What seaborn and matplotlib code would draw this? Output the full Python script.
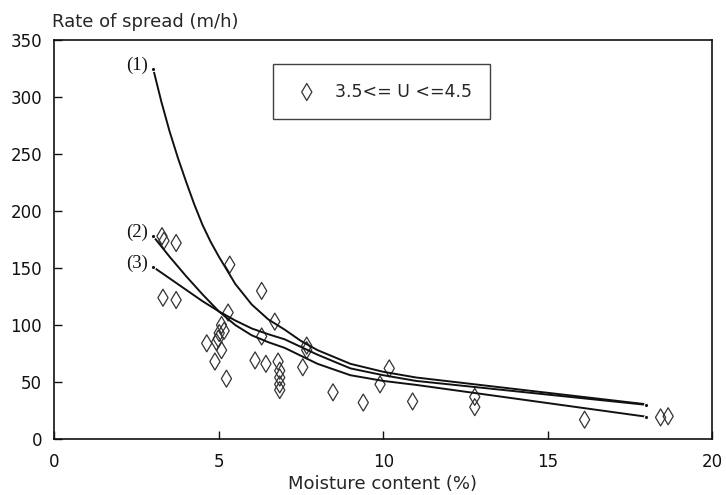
import numpy as np
import pandas as pd
import matplotlib
matplotlib.use("Agg")
import matplotlib.pyplot as plt
import seaborn as sns

# observed points, 3.5 <= U <= 4.5
moisture = [3.27, 3.33, 3.70, 3.30, 3.70, 5.33, 6.30, 6.70, 6.30, 7.67, 7.67, 7.55,
            6.10, 6.43, 6.80, 6.85, 6.85, 6.85, 6.85, 5.28, 5.08, 5.16, 5.01, 4.98,
            4.93, 4.63, 5.08, 4.88, 5.23, 8.47, 9.39, 9.90, 10.18, 10.89, 12.78,
            12.78, 16.12, 18.43, 18.66]
spread = [178, 174, 172, 124, 122, 153, 130, 103, 90, 82, 78, 63,
          69, 66, 68, 60, 54, 48, 43, 111, 100, 95, 93, 88,
          85, 84, 78, 68, 53, 41, 32, 48, 62, 33, 37,
          28, 17, 19, 20]

# model curves (1), (2), (3)
c1_x = [3, 3.25, 3.5, 3.75, 4, 4.25, 4.5, 4.75, 5, 5.5, 6, 6.5, 7, 7.5, 8, 9, 10, 11, 18]
c1_y = [325, 296, 270, 247, 226, 206, 188, 173, 160, 136, 118, 105, 96, 86, 78, 66, 59, 54, 30.5]
c2_x = [3, 3.5, 4, 4.5, 5, 5.5, 6, 6.5, 7, 8, 9, 10, 11, 18]
c2_y = [178, 160, 143, 127, 112, 100, 91, 85, 80, 66, 56, 51, 47.5, 19.6]
c3_x = [3, 3.5, 4, 4.5, 5, 5.5, 6, 6.5, 7, 8, 9, 10, 11, 18]
c3_y = [151, 141, 131, 121, 112, 104, 97, 92, 87.5, 74, 62, 56, 51, 30]
curve_labels = ["(1)", "(2)", "(3)"]
legend_label = "3.5<= U <=4.5"

sns.set_style("ticks")
plt.rcParams["font.family"] = ["DejaVu Sans"]

fig = plt.figure(figsize=(7.26, 4.95), dpi=100)
ax = fig.add_axes([0.075, 0.113, 0.906, 0.806])

pts = pd.DataFrame({"moisture": moisture, "spread": spread})
sns.scatterplot(data=pts, x="moisture", y="spread", ax=ax, marker="d", s=75,
                facecolor="none", edgecolor="#333333", linewidth=0.9,
                label=legend_label, zorder=3)

curves = [(c1_x, c1_y), (c2_x, c2_y), (c3_x, c3_y)]
for (cx, cy), lab in zip(curves, curve_labels):
    sns.lineplot(x=cx, y=cy, ax=ax, sort=False, estimator=None, color="#111111",
                 linewidth=1.4, marker="o", markersize=3, markevery=[0, len(cx) - 1],
                 legend=False, zorder=4)
    ax.text(cx[0] - 0.15, cy[0] + 3, lab, ha="right", va="center", fontsize=13.5,
            family="Liberation Serif", color="#111111")

ax.set_xlim(0, 20)
ax.set_ylim(0, 350)
ax.set_xticks([0, 5, 10, 15, 20])
ax.set_yticks(range(0, 351, 50))
ax.tick_params(direction="in", length=6, width=1, labelsize=12, colors="#111111")
ax.tick_params(axis="x", pad=10)
ax.tick_params(axis="y", pad=9)
for s in ax.spines.values():
    s.set_linewidth(1.2)
    s.set_color("#111111")

ax.set_xlabel("")
ax.set_ylabel("")
fig.text(0.527, 1 - 484 / 495, "Moisture content (%)", fontsize=13, ha="center",
         va="center")
fig.text(0.072, 0.955, "Rate of spread (m/h)", fontsize=13, ha="left", va="center")

leg = ax.legend(loc="center", bbox_to_anchor=(0.497, 0.871), fontsize=12.5,
                frameon=True, fancybox=False, borderpad=1.05, handletextpad=0.7,
                borderaxespad=0, handlelength=1.8)
leg.get_frame().set_edgecolor("#111111")
leg.get_frame().set_linewidth(1.0)

fig.savefig("out.png", dpi=100)
